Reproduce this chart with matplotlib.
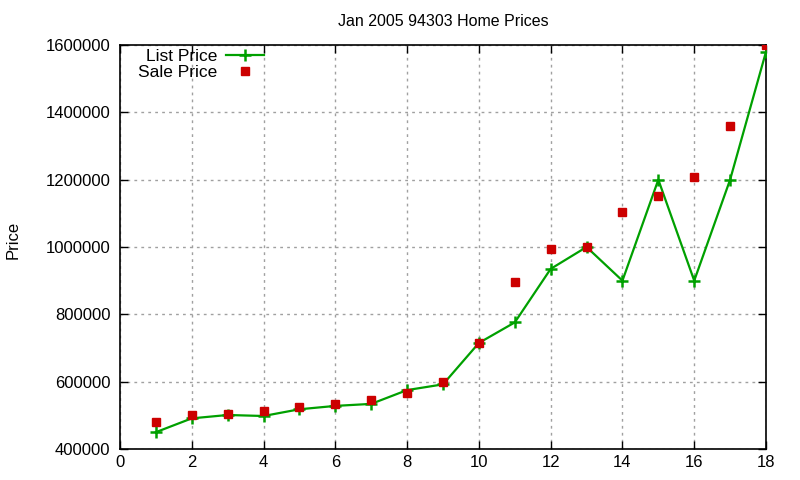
import matplotlib
matplotlib.use("Agg")
import matplotlib.pyplot as plt

# 数据：从图上读出
house = list(range(1, 19))
list_price = [450000, 491000, 501000, 498000, 518000, 528000, 534000, 575000, 592000,
              715000, 776000, 935000, 1000000, 900000, 1200000, 900000, 1200000, 1580000]
sale_price = [481000, 501000, 504000, 513000, 525000, 535000, 546000, 567000, 599000,
              715000, 897000, 993000, 1000000, 1105000, 1152000, 1209000, 1359000, 1600000]

plt.rcParams['font.family'] = ['Liberation Sans', 'DejaVu Sans']

fig = plt.figure(figsize=(8, 4.8), dpi=100)
ax = fig.add_axes([0.15, 0.0646, 0.8075, 0.8416])

ax.plot(house, list_price, color='#00a000', lw=1.6, marker='+', ms=8, mew=1.8,
        label='List Price', zorder=3)
ax.plot(house, sale_price, ls='none', color='#cc0000', marker='s', ms=5.8,
        label='Sale Price', zorder=4)

ax.set_xlim(0, 18)
ax.set_ylim(400000, 1600000)
ax.set_xticks(range(0, 19, 2))
ax.set_yticks(range(400000, 1600001, 200000))
ax.ticklabel_format(style='plain', axis='y')
ax.tick_params(direction='in', top=True, right=True, length=6, width=1, labelsize=12)
ax.tick_params(axis='y', pad=7)
ax.tick_params(axis='x', pad=4)
ax.grid(True, color='#a0a0a0', ls=(0, (2, 3)), lw=1)
for s in ax.spines.values():
    s.set_linewidth(1.2)

ax.set_title('Jan 2005 94303 Home Prices', fontsize=11.5, pad=14)
fig.text(0.016, 0.5, 'Price', rotation=90, va='center', ha='center', fontsize=12)

ax.legend(loc='upper left', bbox_to_anchor=(0.012, 1.017), frameon=False, markerfirst=False,
          fontsize=12.5, handlelength=2.2, handletextpad=0.5, labelspacing=0.05,
          borderaxespad=0.2)

fig.savefig('out.png', dpi=100)
